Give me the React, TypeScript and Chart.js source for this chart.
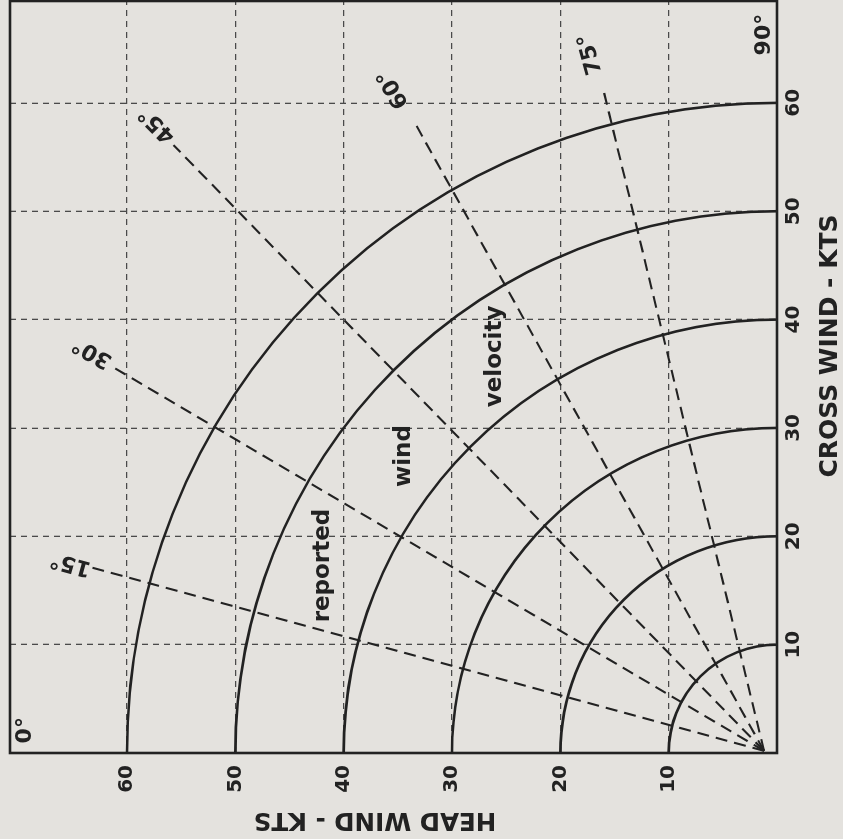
import React, { useEffect, useRef } from "react";
import { Chart, registerables } from "chart.js";

Chart.register(...registerables);

// ---- data ----
const windSpeedArcs = [10, 20, 30, 40, 50, 60];
const crossWindTicks = [10, 20, 30, 40, 50, 60];
const headWindTicks = [10, 20, 30, 40, 50, 60];

const angleLabels = ["15°", "30°", "45°", "60°", "75°"];
const angleDegrees = [15, 30, 45, 60, 75];
const angleLineEndCross = [17.1, 35.5, 56.1, 58.1, 61.5];
const angleLineEndHead = [63.2, 61.1, 55.7, 33.4, 16.1];
const angleLineStartCross = [0.2, 0.2, 0.2, 0.2, 0.2];
const angleLineStartHead = [1.2, 1.2, 1.2, 1.2, 1.2];
const angleLabelCross = [17.5, 37.0, 58.0, 61.3, 64.5];
const angleLabelHead = [65.2, 63.2, 57.2, 35.4, 17.2];

const cornerLabels = ["0°", "90°"];
const cornerLabelCross = [2.1, 66.3];
const cornerLabelHead = [69.4, 1.2];

const noteWords = ["reported", "wind", "velocity"];
const noteCross = [17.3, 27.4, 36.6];
const noteHead = [41.9, 34.4, 26.0];

const crossWindTitle = "CROSS WIND - KTS";
const headWindTitle = "HEAD WIND - KTS";

// ---- styling ----
const INK = "#222222";
const FONT = "DejaVu Sans";
const BG = "#e4e2de";

const overlayPlugin = {
  id: "windOverlay",
  beforeDatasetsDraw(chart: any) {
    const { ctx, scales } = chart;
    const x = scales.x;
    const y = scales.y;
    const cx = x.getPixelForValue(0);
    const cy = y.getPixelForValue(0);
    ctx.save();
    ctx.beginPath();
    const a = chart.chartArea;
    ctx.rect(a.left, a.top, a.right - a.left, a.bottom - a.top);
    ctx.clip();
    ctx.strokeStyle = INK;
    ctx.lineWidth = 2.6;
    ctx.setLineDash([]);
    for (const r of windSpeedArcs) {
      const rx = x.getPixelForValue(r) - cx;
      const ry = cy - y.getPixelForValue(r);
      ctx.beginPath();
      ctx.ellipse(cx, cy, rx, ry, 0, -Math.PI / 2, 0, false);
      ctx.stroke();
    }
    ctx.restore();
  },
  afterDraw(chart: any) {
    const { ctx, scales, chartArea: a } = chart;
    const x = scales.x;
    const y = scales.y;
    ctx.save();
    // frame
    ctx.strokeStyle = INK;
    ctx.lineWidth = 2.6;
    ctx.setLineDash([]);
    ctx.strokeRect(a.left, a.top, a.right - a.left, a.bottom - a.top);

    ctx.fillStyle = INK;
    ctx.textAlign = "center";
    ctx.textBaseline = "middle";

    // angle labels, oriented along their lines
    ctx.font = `bold 22px "${FONT}"`;
    angleLabels.forEach((t, i) => {
      const px = x.getPixelForValue(angleLabelCross[i]);
      const py = y.getPixelForValue(angleLabelHead[i]);
      ctx.save();
      ctx.translate(px, py);
      ctx.rotate((-(90 - angleDegrees[i]) * Math.PI) / 180);
      ctx.fillText(t, 0, 0);
      ctx.restore();
    });
    cornerLabels.forEach((t, i) => {
      ctx.fillText(t, x.getPixelForValue(cornerLabelCross[i]), y.getPixelForValue(cornerLabelHead[i]));
    });

    // notes
    ctx.font = `bold 23px "${FONT}"`;
    noteWords.forEach((t, i) => {
      ctx.fillText(t, x.getPixelForValue(noteCross[i]), y.getPixelForValue(noteHead[i]));
    });

    // axis titles
    ctx.font = `bold 25px "${FONT}"`;
    ctx.fillText(crossWindTitle, a.left + 407, a.bottom + 53);
    ctx.save();
    ctx.translate(a.left - 66, a.top + 365);
    ctx.rotate(-Math.PI / 2);
    ctx.font = `bold 24.5px "${FONT}"`;
    ctx.fillText(headWindTitle, 0, 0);
    ctx.restore();
    ctx.restore();
  },
};

export default function App() {
  const ref = useRef<HTMLCanvasElement>(null);
  useEffect(() => {
    if (!ref.current) return;
    const datasets = angleDegrees.map((deg, i) => ({
      label: `${deg}°`,
      data: [
        { x: angleLineStartCross[i], y: angleLineStartHead[i] },
        { x: angleLineEndCross[i], y: angleLineEndHead[i] },
      ],
      showLine: true,
      borderColor: INK,
      borderWidth: 2.1,
      borderDash: [12, 7],
      pointRadius: 0,
      fill: false,
    }));
    const tickFont = { family: FONT, weight: "bold" as const, size: 20 };
    const chart = new Chart(ref.current, {
      type: "scatter",
      data: { datasets },
      plugins: [overlayPlugin],
      options: {
        animation: false,
        responsive: false,
        maintainAspectRatio: false,
        events: [],
        layout: { padding: { top: 10, right: 1, left: 0, bottom: 0 } },
        plugins: { legend: { display: false }, tooltip: { enabled: false }, title: { display: false } },
        scales: {
          x: {
            type: "linear",
            position: "bottom",
            min: 0,
            max: 69.4,
            afterBuildTicks: (s: any) => {
              s.ticks = crossWindTicks.map((v) => ({ value: v }));
            },
            afterFit: (s: any) => {
              s.height = 66;
              s.paddingLeft = 0;
              s.paddingRight = 0;
            },
            ticks: { font: tickFont, color: INK, padding: 5, maxRotation: 0, autoSkip: false },
            grid: { color: "#4a4a4a", lineWidth: 1.3, drawTicks: false },
            border: { display: false, dash: [6, 5] },
          },
          y: {
            type: "linear",
            position: "left",
            min: 0,
            max: 70.8,
            afterBuildTicks: (s: any) => {
              s.ticks = headWindTicks.map((v) => ({ value: v }));
            },
            afterFit: (s: any) => {
              s.width = 86;
              s.paddingTop = 0;
              s.paddingBottom = 0;
            },
            ticks: { font: tickFont, color: INK, padding: 12, autoSkip: false },
            grid: { color: "#4a4a4a", lineWidth: 1.3, drawTicks: false },
            border: { display: false, dash: [6, 5] },
          },
        },
      },
    } as any);
    return () => chart.destroy();
  }, []);
  return (
    <div
      style={{
        position: "fixed",
        left: 0,
        top: 0,
        width: 843,
        height: 839,
        background: BG,
        overflow: "hidden",
      }}
    >
      <canvas
        ref={ref}
        width={839}
        height={843}
        style={{
          position: "absolute",
          left: 0,
          top: 0,
          width: 839,
          height: 843,
          transformOrigin: "0 0",
          transform: "translate(0px, 839px) rotate(-90deg)",
        }}
      />
    </div>
  );
}
